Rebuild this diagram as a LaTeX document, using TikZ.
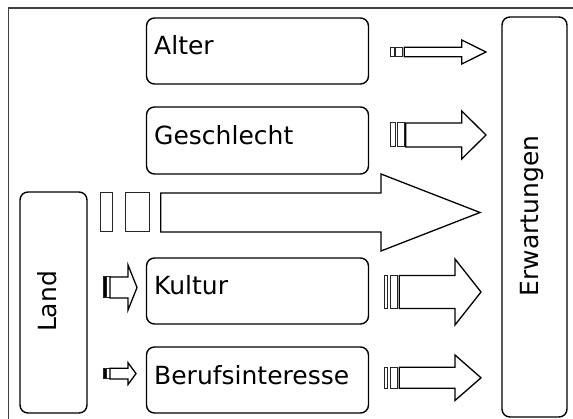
\documentclass[tikz,border=0pt]{standalone}
\usepackage{fontspec}
\setmainfont{DejaVu Sans}
\begin{document}
\begin{tikzpicture}[x=1pt,y=-1pt,
  box/.style={draw=black, line width=1.4pt, rounded corners=8pt, inner sep=0pt, minimum width=222pt},
  lbl/.style={font=\fontsize{25}{30}\selectfont, inner sep=0pt},
  barrowline/.style={draw=black, line width=1.3pt, fill=white, line join=miter},
  tailbox/.style={draw=black!85, line width=1pt},
  frameline/.style={draw=black!75, line width=1.2pt}]
\useasboundingbox (0,0) rectangle (573,419);
\draw[frameline] (8.5,419) |- (573,8);

% boxes
\node[box, minimum height=66pt] (alter) at (257.5,51) {};
\node[box, minimum height=67pt] (geschlecht) at (257.5,140.5) {};
\node[box, minimum height=66pt] (kultur) at (257.5,291) {};
\node[box, minimum height=66pt] (beruf) at (257.5,380) {};
\node[box, minimum width=67pt, minimum height=221pt] (land) at (53.5,302.5) {};
\node[box, minimum width=65pt, minimum height=400pt] (erw) at (534.5,217) {};

% labels
\node[lbl, anchor=base west] (alterT) at (154,55) {Alter};
\node[lbl, anchor=base west] (geschlechtT) at (154,145) {Geschlecht};
\node[lbl, anchor=base west] (kulturT) at (154,295) {Kultur};
\node[lbl, anchor=base west] (berufT) at (154,385) {Berufsinteresse};
\node[lbl, rotate=90] (landT) at (47.5,301.5) {Land};
\node[lbl, rotate=90] (erwT) at (531.5,216) {Erwartungen};

% Alter arrow
\draw[tailbox] (390,47.3) rectangle (394,56.7);
\draw[tailbox] (395,47.3) rectangle (402.7,56.7);
\draw[barrowline] (404.3,47.3) -- (461.7,47.3) -- (461.7,40) -- (486,52) -- (461.7,64) -- (461.7,56.7) -- (404.3,56.7) -- cycle;

% Geschlecht arrow
\draw[tailbox] (390,123) rectangle (395,147);
\draw[tailbox] (397,123) rectangle (404,147);
\draw[barrowline] (405.7,123) -- (461.7,123) -- (461.7,111) -- (486,135) -- (461.7,159) -- (461.7,147) -- (405.7,147) -- cycle;

% big Land arrow
\draw[tailbox] (100.7,193) rectangle (112,232);
\draw[tailbox] (125,193) rectangle (149,232);
\draw[barrowline] (160.7,193) -- (381,193) -- (381,174) -- (480,212.5) -- (381,251) -- (381,232) -- (160.7,232) -- cycle;

% Land -> Kultur
\draw[tailbox, fill=black] (103,277) rectangle (106,298);
\draw[tailbox] (106.5,277) rectangle (110,298);
\draw[barrowline] (110,277) -- (128,277) -- (128,265) -- (137,287.5) -- (128,310) -- (128,298) -- (110,298) -- cycle;

% Land -> Berufsinteresse
\draw[tailbox, fill=black] (103,368.3) rectangle (106,379);
\draw[tailbox] (106.5,368.3) rectangle (110,379);
\draw[barrowline] (110,368.3) -- (128,368.3) -- (128,362.7) -- (136,373.6) -- (128,384.5) -- (128,379) -- (110,379) -- cycle;

% Kultur arrow
\draw[tailbox] (384,275.5) rectangle (387.7,308.5);
\draw[tailbox] (390,275.5) rectangle (397.7,308.5);
\draw[barrowline] (399.3,275.5) -- (455,275.5) -- (455,259) -- (481,292) -- (455,325) -- (455,308.5) -- (399.3,308.5) -- cycle;

% Berufsinteresse arrow
\draw[tailbox] (384,367.3) rectangle (387.7,388.3);
\draw[tailbox] (390,367.3) rectangle (397.7,388.3);
\draw[barrowline] (399.3,367.3) -- (455,367.3) -- (455,355) -- (481,377.8) -- (455,400.5) -- (455,388.3) -- (399.3,388.3) -- cycle;
\end{tikzpicture}
\end{document}
